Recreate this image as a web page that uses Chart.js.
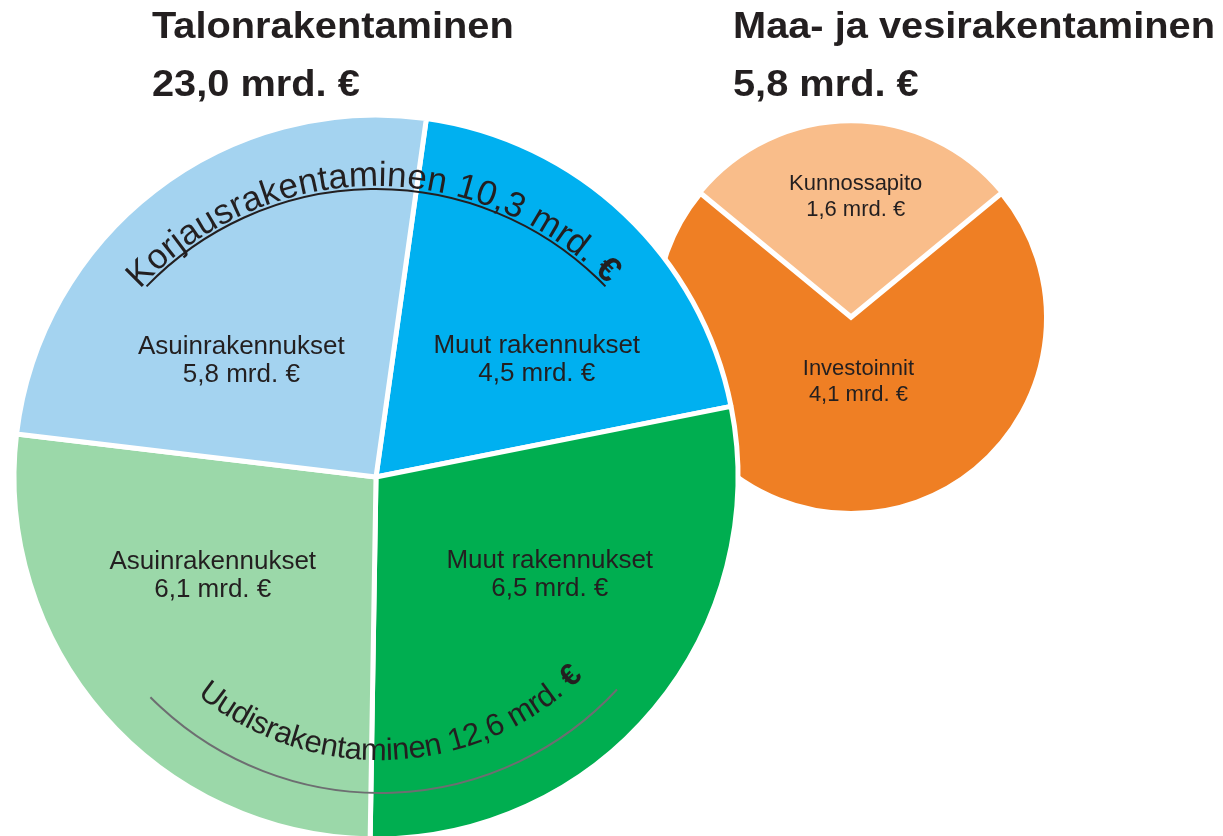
<!DOCTYPE html>
<html>
<head>
<meta charset="utf-8">
<script src="https://cdn.jsdelivr.net/npm/chart.js@4.4.1/dist/chart.umd.min.js"></script>
<style>
  html, body { margin: 0; padding: 0; background: #ffffff; overflow: hidden; width: 1223px; height: 836px; }
  canvas { position: absolute; left: 0; top: 0; }
  #smallChart { z-index: 1; }
  #bigChart { z-index: 2; }
</style>
</head>
<body>
<canvas id="smallChart" width="1223" height="860"></canvas>
<canvas id="bigChart" width="1223" height="860"></canvas>
<script>
// ---------------- DATA ----------------
const bigCategories = ['Muut rakennukset', 'Muut rakennukset', 'Asuinrakennukset', 'Asuinrakennukset'];
const bigGroups = ['Korjausrakentaminen', 'Uudisrakentaminen', 'Uudisrakentaminen', 'Korjausrakentaminen'];
const bigValues = [4.5, 6.5, 6.1, 5.8];
const smallCategories = ['Kunnossapito', 'Investoinnit'];
const smallValues = [1.6, 4.1];
const titleNames = ['Talonrakentaminen', 'Maa- ja vesirakentaminen'];
const titleTotals = [23.0, 5.8];
const unitText = ' mrd. €';

// ---------------- STYLE / LAYOUT ----------------
const bigColors = ['#00B0F0', '#00AE50', '#9BD8A9', '#A4D3F0'];
const smallColors = ['#F9BD8A', '#EF7F24'];
const textColor = '#231F20';
const FONT = '"Liberation Sans", Arial, Helvetica, sans-serif';
const W = 1223, H = 860;
const BIG = { cx: 376, cy: 477, r: 362, bw: 5, off: 0 };
const SMALL = { cx: 851, cy: 318, r: 195, bw: 4, off: 7 };
// label anchors relative to chart centre, in units of radius (first baseline)
const bigLabelPos = [[0.444, -0.343], [0.48, 0.25], [-0.451, 0.253], [-0.372, -0.339]];
const smallLabelPos = [[0.024, -0.655], [0.038, 0.292]];
const titlePos = [[152, 38, 96], [733, 38, 96]];

function fmt(v) { return v.toFixed(1).replace('.', ',') + unitText; }
function padFor(g) {
  const half = g.r + (g.bw + g.off) / 2;
  return { left: g.cx - half, top: g.cy - half, right: W - (g.cx + half), bottom: H - (g.cy + half) };
}
function groupTotal(name) {
  let s = 0;
  bigGroups.forEach((g, i) => { if (g === name) s += bigValues[i]; });
  return s;
}

function drawTitle(ctx, idx) {
  const [x, y1, y2] = titlePos[idx];
  ctx.save();
  ctx.fillStyle = textColor;
  ctx.font = 'bold 37px ' + FONT;
  ctx.textAlign = 'left';
  ctx.textBaseline = 'alphabetic';
  [[titleNames[idx], y1], [fmt(titleTotals[idx]), y2]].forEach(([t, y]) => {
    ctx.save();
    ctx.translate(x, y);
    ctx.scale(1.075, 1);
    ctx.fillText(t, 0, 0);
    ctx.restore();
  });
  ctx.restore();
}

function drawLabel(ctx, x, y, lines, size, gap) {
  ctx.save();
  ctx.fillStyle = textColor;
  ctx.font = size + 'px ' + FONT;
  ctx.textAlign = 'center';
  ctx.textBaseline = 'alphabetic';
  lines.forEach((t, i) => ctx.fillText(t, x, y + i * gap));
  ctx.restore();
}

function arcText(ctx, text, cx, cy, r, a0, a1, font, boldFont, inward) {
  const chars = Array.from(text);
  const widths = chars.map(c => { ctx.font = (c === '€' ? boldFont : font); return ctx.measureText(c).width; });
  const total = widths.reduce((s, w) => s + w, 0);
  const span = (a1 - a0) * Math.PI / 180;
  let t = a0 * Math.PI / 180;
  ctx.save();
  ctx.fillStyle = textColor;
  ctx.textAlign = 'center';
  ctx.textBaseline = 'alphabetic';
  chars.forEach((c, i) => {
    const da = span * widths[i] / total;
    const tc = t + da / 2;
    ctx.save();
    ctx.translate(cx + r * Math.sin(tc), cy - r * Math.cos(tc));
    ctx.rotate(inward ? tc - Math.PI : tc);
    ctx.font = (c === '€' ? boldFont : font);
    ctx.fillText(c, 0, 0);
    ctx.restore();
    t += da;
  });
  ctx.restore();
}

function arcLine(ctx, cx, cy, r, a0, a1, color) {
  ctx.save();
  ctx.strokeStyle = color;
  ctx.lineWidth = 2;
  ctx.beginPath();
  ctx.arc(cx, cy, r, (a0 - 90) * Math.PI / 180, (a1 - 90) * Math.PI / 180, false);
  ctx.stroke();
  ctx.restore();
}

const bigPlugin = {
  id: 'bigDecor',
  afterDatasetsDraw(chart) {
    const ctx = chart.ctx;
    const arcs = chart.getDatasetMeta(0).data;
    const c = arcs[0];
    const R = c.outerRadius;
    drawTitle(ctx, 0);
    arcs.forEach((a, i) => {
      const [fx, fy] = bigLabelPos[i];
      drawLabel(ctx, a.x + fx * R, a.y + fy * R, [bigCategories[i], fmt(bigValues[i])], 26, 28);
    });
    // group arcs
    const korj = 'Korjausrakentaminen';
    const uud = 'Uudisrakentaminen';
    arcLine(ctx, c.x, c.y + 31, 319, -46, 46, '#231F20');
    arcText(ctx, korj + ' ' + fmt(groupTotal(korj)), c.x, c.y + 31, 322, -47.2, 46.0,
      '35px ' + FONT, 'bold 35px ' + FONT, false);
    arcLine(ctx, c.x + 4, c.y - 7, 323, 132.8, 225.3, '#6D6E71');
    arcText(ctx, uud + ' ' + fmt(groupTotal(uud)), c.x + 4, c.y - 7, 290, 219.0, 135.5,
      '31px ' + FONT, 'bold 31px ' + FONT, true);
  }
};

const smallPlugin = {
  id: 'smallDecor',
  afterDatasetsDraw(chart) {
    const ctx = chart.ctx;
    const arcs = chart.getDatasetMeta(0).data;
    const R = arcs[0].outerRadius;
    drawTitle(ctx, 1);
    arcs.forEach((a, i) => {
      const [fx, fy] = smallLabelPos[i];
      drawLabel(ctx, a.x + fx * R, a.y + fy * R, [smallCategories[i], fmt(smallValues[i])], 22, 26);
    });
  }
};

const common = {
  responsive: false,
  animation: false,
  events: [],
  plugins: { legend: { display: false }, tooltip: { enabled: false }, title: { display: false } }
};

new Chart(document.getElementById('smallChart'), {
  type: 'pie',
  data: {
    labels: smallCategories,
    datasets: [{
      data: smallValues,
      backgroundColor: smallColors,
      borderColor: '#ffffff',
      borderWidth: SMALL.bw,
      hoverBorderWidth: SMALL.bw,
      borderJoinStyle: 'miter',
      offset: [SMALL.off, 0],
      hoverOffset: 0
    }]
  },
  options: Object.assign({}, common, {
    rotation: -smallValues[0] / (smallValues[0] + smallValues[1]) * 180,
    layout: { padding: padFor(SMALL) }
  }),
  plugins: [smallPlugin]
});

new Chart(document.getElementById('bigChart'), {
  type: 'pie',
  data: {
    labels: bigCategories,
    datasets: [{
      data: bigValues,
      backgroundColor: bigColors,
      borderColor: '#ffffff',
      borderWidth: BIG.bw,
      hoverBorderWidth: BIG.bw,
      borderJoinStyle: 'bevel',
      offset: 0,
      hoverOffset: 0
    }]
  },
  options: Object.assign({}, common, {
    rotation: 8,
    layout: { padding: padFor(BIG) }
  }),
  plugins: [bigPlugin]
});
</script>
</body>
</html>
